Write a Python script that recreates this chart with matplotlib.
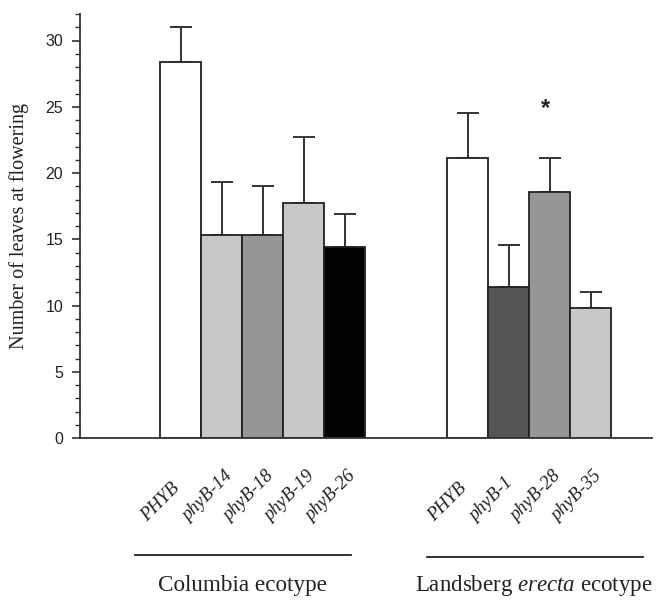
import matplotlib
matplotlib.use("Agg")
import matplotlib.pyplot as plt
import matplotlib.transforms as mtransforms
from matplotlib.ticker import MultipleLocator

plt.rcParams["mathtext.fontset"] = "custom"
plt.rcParams["mathtext.rm"] = "Liberation Serif"
plt.rcParams["mathtext.it"] = "Liberation Serif:italic"

# ---- data ----
col_labels = ["PHYB", "phyB-14", "phyB-18", "phyB-19", "phyB-26"]
col_values = [28.4, 15.3, 15.3, 17.7, 14.4]
col_errors = [2.6, 4.0, 3.7, 5.0, 2.5]
col_colors = ["#ffffff", "#c8c8c8", "#969696", "#c8c8c8", "#000000"]

ler_labels = ["PHYB", "phyB-1", "phyB-28", "phyB-35"]
ler_values = [21.1, 11.4, 18.6, 9.8]
ler_errors = [3.4, 3.2, 2.5, 1.2]
ler_colors = ["#ffffff", "#555555", "#969696", "#c8c8c8"]

col_pos = [0, 1, 2, 3, 4]
ler_pos = [7, 8, 9, 10]
star_index = 2  # phyB-28 in Landsberg group
star_y = 24.9

yticks = [0, 5, 10, 15, 20, 25, 30]

# ---- figure ----
fig = plt.figure(figsize=(6.61, 6.0), dpi=100)
ax = fig.add_axes([80 / 661, 1 - 438 / 600, (652 - 80) / 661, (438 - 14) / 600])

serif = ["Liberation Serif", "DejaVu Serif"]
sans = ["Liberation Sans", "DejaVu Sans"]

def draw_group(pos, vals, errs, cols):
    ax.bar(pos, vals, width=1.0, color=cols, edgecolor="#222222", linewidth=1.3, zorder=2)
    ax.errorbar(pos, vals, yerr=[[0] * len(vals), errs], fmt="none", ecolor="#333333",
                elinewidth=1.4, capsize=8, capthick=1.4, zorder=1)

draw_group(col_pos, col_values, col_errors, col_colors)
draw_group(ler_pos, ler_values, ler_errors, ler_colors)

ax.text(ler_pos[star_index] - 0.1, star_y, "*", ha="center", va="center", fontsize=17,
        family=sans, fontweight="bold", color="#222222")

ax.set_xlim(-2.46, 11.5)
ax.set_ylim(0, 32)
ax.set_yticks(yticks)
ax.yaxis.set_minor_locator(MultipleLocator(1))
ax.set_xticks([])
for s in ["top", "right"]:
    ax.spines[s].set_visible(False)
ax.spines["left"].set_color("#333333")
ax.spines["bottom"].set_color("#333333")
ax.spines["left"].set_linewidth(1.3)
ax.spines["bottom"].set_linewidth(1.3)
ax.tick_params(axis="y", which="major", length=6, width=1.2, color="#333333", labelsize=11.5, pad=6)
ax.tick_params(axis="y", which="minor", length=3.5, width=1.0, color="#333333")
for lab in ax.get_yticklabels():
    lab.set_family(sans)
    lab.set_color("#222222")

ax.set_ylabel("Number of leaves at flowering", family=serif, fontsize=14.5, color="#222222", labelpad=12)

trans = mtransforms.blended_transform_factory(ax.transData, ax.transAxes)

for p, lab in list(zip(col_pos, col_labels)) + list(zip(ler_pos, ler_labels)):
    ax.text(p - 0.9, -0.19, lab, transform=trans, rotation=45, rotation_mode="anchor",
            ha="left", va="center", fontsize=13.5, family=serif, style="italic", color="#222222")

# group lines and labels
ax.plot([-1.12, 4.15], [-0.276, -0.276], transform=trans, color="#222222", lw=1.3, clip_on=False)
ax.plot([6.0, 11.27], [-0.28, -0.28], transform=trans, color="#222222", lw=1.3, clip_on=False)
ax.text(1.51, -0.347, "Columbia ecotype", transform=trans, ha="center", va="center",
        fontsize=16.7, family=serif, color="#222222")
ax.text(8.62, -0.347, "Landsberg $\\mathit{erecta}$ ecotype", transform=trans, ha="center", va="center",
        fontsize=16.5, family=serif, color="#222222")

fig.savefig("out.png", dpi=100)
